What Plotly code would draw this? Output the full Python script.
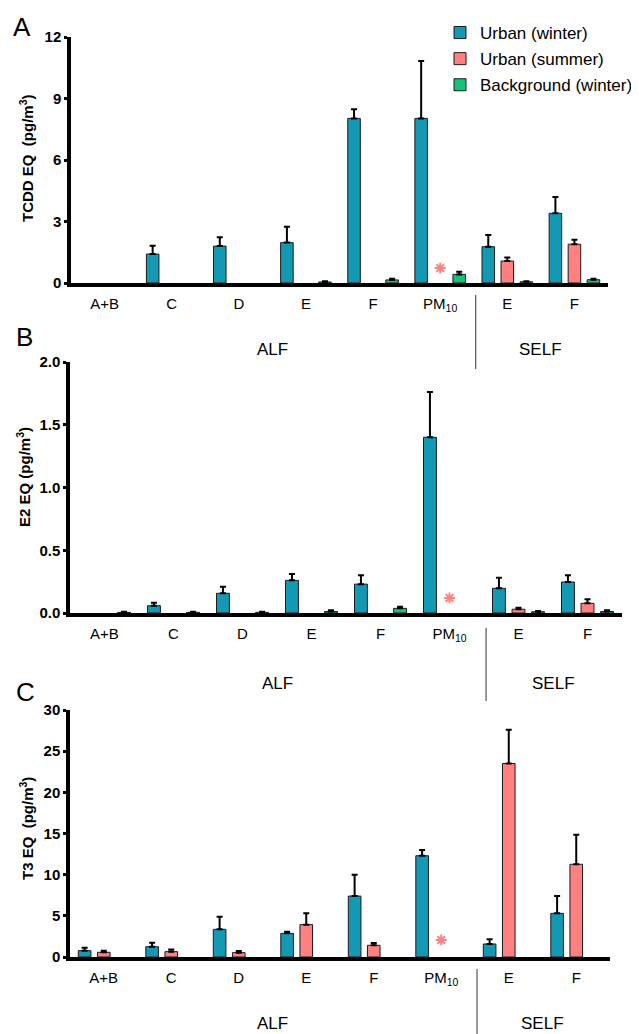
import plotly.graph_objects as go

FONT = "Liberation Sans, Arial, Helvetica, sans-serif"

categories = ["A+B", "C", "D", "E", "F", "PM<sub>10</sub>", "E", "F"]
series_names = ["Urban (winter)", "Urban (summer)", "Background (winter)"]
series_colors = ["#1399B4", "#FF8080", "#15C27B"]

# Panel A: TCDD EQ (pg/m3)
tcdd_winter = [None, 1.41, 1.80, 1.97, 8.03, 8.03, 1.77, 3.40]
tcdd_winter_err = [0, 0.41, 0.43, 0.78, 0.44, 2.80, 0.57, 0.80]
tcdd_summer = [None, None, None, None, None, None, 1.07, 1.89]
tcdd_summer_err = [0, 0, 0, 0, 0, 0, 0.18, 0.22]
tcdd_bg = [None, None, None, 0.05, 0.15, 0.42, 0.06, 0.16]
tcdd_bg_err = [0, 0, 0, 0.03, 0.06, 0.13, 0.02, 0.05]

# Panel B: E2 EQ (pg/m3)
e2_winter = [None, 0.058, 0.157, 0.26, 0.23, 1.40, 0.197, 0.247]
e2_winter_err = [0, 0.024, 0.053, 0.05, 0.07, 0.36, 0.083, 0.053]
e2_summer = [None, None, None, None, None, None, 0.03, 0.077]
e2_summer_err = [0, 0, 0, 0, 0, 0, 0.012, 0.033]
e2_bg = [0.005, 0.005, 0.005, 0.012, 0.037, None, 0.01, 0.012]
e2_bg_err = [0.004, 0.004, 0.004, 0.01, 0.013, 0, 0.006, 0.01]

# Panel C: T3 EQ (pg/m3)
t3_winter = [0.77, 1.25, 3.36, 2.87, 7.4, 12.3, 1.58, 5.3]
t3_winter_err = [0.36, 0.49, 1.54, 0.2, 2.6, 0.7, 0.57, 2.1]
t3_summer = [0.57, 0.65, 0.53, 3.93, 1.42, None, 23.5, 11.26]
t3_summer_err = [0.2, 0.25, 0.2, 1.37, 0.28, 0, 4.1, 3.59]
t3_bg = [None] * 8
t3_bg_err = [0] * 8

# asterisk (no summer sample for PM10): category index and height per panel
asterisk_category = 5
asterisk_heights = [0.73, 0.12, 2.07]

y_titles = ["TCDD EQ  (pg/m<sup>3</sup>)", "E2 EQ (pg/m<sup>3</sup>)", "T3 EQ  (pg/m<sup>3</sup>)"]
y_ticks = [[0, 3, 6, 9, 12], [0.0, 0.5, 1.0, 1.5, 2.0], [0, 5, 10, 15, 20, 25, 30]]
y_ticktext = [["0", "3", "6", "9", "12"], ["0.0", "0.5", "1.0", "1.5", "2.0"],
              ["0", "5", "10", "15", "20", "25", "30"]]
y_ranges = [[0, 12], [0, 2], [0, 30]]
panel_letters = ["A", "B", "C"]

panels = [
    (tcdd_winter, tcdd_winter_err, tcdd_summer, tcdd_summer_err, tcdd_bg, tcdd_bg_err),
    (e2_winter, e2_winter_err, e2_summer, e2_summer_err, e2_bg, e2_bg_err),
    (t3_winter, t3_winter_err, t3_summer, t3_summer_err, t3_bg, t3_bg_err),
]

x_pos = list(range(len(categories)))

# ---- geometry: page pixels -> paper fractions (page body has an 8px margin) ----
OFF = 8
W, H = 639 - OFF, 1034 - OFF


def fx(px):
    return (px - OFF) / W


def fy(py):
    return 1 - (py - OFF) / H


x_domains = [[fx(71), fx(608)], [fx(70), fx(622)], [fx(70), fx(610)]]
y_domains = [[fy(283), fy(37)], [fy(613), fy(362)], [fy(957), fy(710)]]
ytitle_pos = [(fx(27), fy(158)), (fx(23), fy(477)), (fx(26), fy(829))]
letter_pos = [(fx(22), fy(27)), (fx(24), fy(337)), (fx(25), fy(692))]
group_label_y = [fy(350), fy(683), fy(1023)]
sep_y = [(fy(369), fy(295)), (fy(701), fy(628)), (fy(1034), fy(969))]
sep_x = 5.53

bar_width = 0.187
offsets = [-0.377, -0.0935, 0.19]

fig = go.Figure()

for p, data in enumerate(panels):
    xa = "x" if p == 0 else f"x{p+1}"
    ya = "y" if p == 0 else f"y{p+1}"
    vals = [data[0], data[2], data[4]]
    errs = [data[1], data[3], data[5]]
    for s in range(3):
        fig.add_trace(go.Bar(
            x=x_pos, y=vals[s], name=series_names[s],
            xaxis=xa, yaxis=ya,
            width=bar_width, offset=offsets[s],
            marker=dict(color=series_colors[s], line=dict(color="#1a1a1a", width=1)),
            error_y=dict(type="data", array=errs[s], arrayminus=[0] * len(errs[s]),
                         symmetric=False, color="black", thickness=2, width=3),
            showlegend=(p == 0), legendgroup=f"g{s}",
        ))
    fig.add_trace(go.Scatter(
        x=[asterisk_category], y=[asterisk_heights[p]], xaxis=xa, yaxis=ya,
        mode="markers", showlegend=False, hoverinfo="skip",
        marker=dict(symbol="asterisk-open", size=9, color="#FF8080",
                    line=dict(color="#FF8080", width=2)),
    ))

layout = dict(
    width=W, height=H,
    margin=dict(l=0, r=0, t=0, b=0, autoexpand=False),
    paper_bgcolor="white", plot_bgcolor="white",
    barmode="overlay",
    font=dict(family=FONT, color="black"),
    showlegend=True,
    legend=dict(x=fx(440), y=fy(15), xanchor="left", yanchor="top",
                font=dict(family=FONT, size=17, color="black"),
                tracegroupgap=1, bgcolor="rgba(0,0,0,0)"),
    annotations=[], shapes=[],
)

for p in range(3):
    xk = "xaxis" if p == 0 else f"xaxis{p+1}"
    yk = "yaxis" if p == 0 else f"yaxis{p+1}"
    ya = "y" if p == 0 else f"y{p+1}"
    xa = "x" if p == 0 else f"x{p+1}"
    layout[xk] = dict(
        domain=x_domains[p], anchor=ya, range=[-0.5, 7.5],
        tickmode="array", tickvals=x_pos, ticktext=categories,
        showline=True, linecolor="black", linewidth=3.5,
        ticks="", showgrid=False, zeroline=False,
        tickfont=dict(family=FONT, size=15, color="black"),
        ticklabelstandoff=4, automargin=False,
    )
    layout[yk] = dict(
        domain=y_domains[p], anchor=xa, range=y_ranges[p],
        tickmode="array", tickvals=y_ticks[p], ticktext=y_ticktext[p],
        showline=True, linecolor="black", linewidth=3.5,
        ticks="outside", ticklen=3, tickwidth=3, tickcolor="black",
        showgrid=False, zeroline=False, automargin=False,
        tickfont=dict(family=FONT, size=15, color="black", weight="bold"),
    )
    tx, ty = ytitle_pos[p]
    layout["annotations"].append(dict(
        text=y_titles[p], x=tx, y=ty, xref="paper", yref="paper",
        textangle=-90, showarrow=False, xanchor="center", yanchor="middle",
        font=dict(family=FONT, size=15, color="black", weight="bold"),
    ))
    lx, ly = letter_pos[p]
    layout["annotations"].append(dict(
        text=panel_letters[p], x=lx, y=ly, xref="paper", yref="paper",
        showarrow=False, xanchor="center", yanchor="middle",
        font=dict(family=FONT, size=26, color="black"),
    ))
    for label, gx in (("ALF", 2.5), ("SELF", 6.5)):
        layout["annotations"].append(dict(
            text=label, x=gx, y=group_label_y[p], xref=xa, yref="paper",
            showarrow=False, xanchor="center", yanchor="middle",
            font=dict(family=FONT, size=17, color="black"),
        ))
    y0, y1 = sep_y[p]
    layout["shapes"].append(dict(
        type="line", xref=xa, yref="paper", x0=sep_x, x1=sep_x, y0=y0, y1=y1,
        line=dict(color="#333333", width=1),
    ))

fig.update_layout(**layout)
fig.write_html("out.html")
